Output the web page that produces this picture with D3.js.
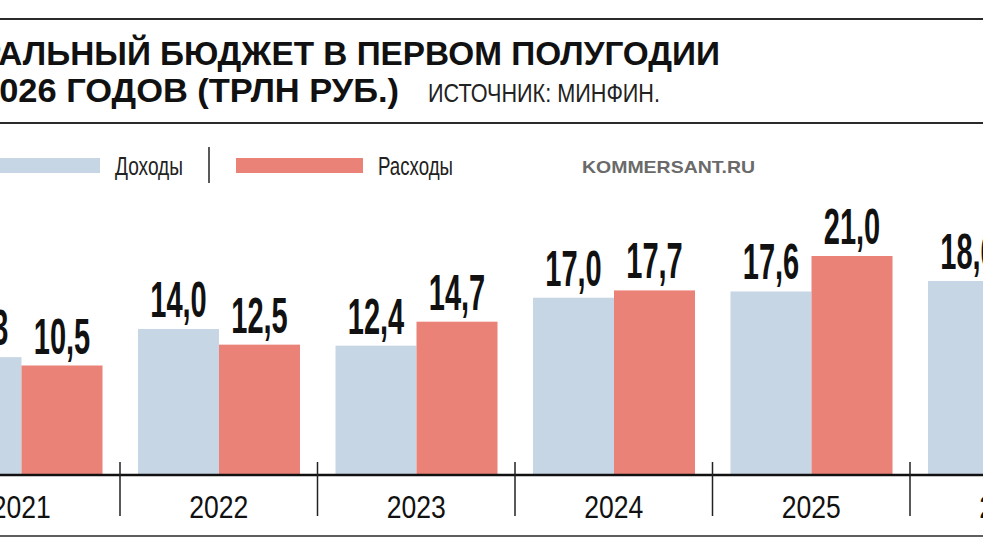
<!DOCTYPE html>
<html>
<head>
<meta charset="utf-8">
<script src="https://cdn.jsdelivr.net/npm/d3@7"></script>
<style>
  body { margin: 0; background: #fff; }
  svg { display: block; }
  text { font-family: "Liberation Sans", Arial, sans-serif; }
</style>
</head>
<body>
<div id="chart"></div>
<script>
// Data (trillion rubles, first half of year)
const years = ["2021", "2022", "2023", "2024", "2025", "2026"];
const income = [11.3, 14.0, 12.4, 17.0, 17.6, 18.6];
const spending = [10.5, 12.5, 14.7, 17.7, 21.0, null];
const seriesNames = ["Доходы", "Расходы"];
const seriesColors = ["#c6d6e5", "#eb8278"];

const titleLine1 = "ФЕДЕРАЛЬНЫЙ БЮДЖЕТ В ПЕРВОМ ПОЛУГОДИИ";
const titleLine2 = "2021–2026 ГОДОВ (ТРЛН РУБ.)";
const sourceText = "ИСТОЧНИК: МИНФИН.";

const width = 983, height = 553;

const svg = d3.select("#chart")
    .append("svg")
    .attr("width", width)
    .attr("height", height);

// Helper: width of a string in a given style
function measure(str, size, weight) {
    const t = svg.append("text")
        .style("font-size", size + "px")
        .style("font-weight", weight)
        .text(str);
    const w = t.node().getComputedTextLength();
    t.remove();
    return w;
}

// Horizontal rules
svg.append("line").attr("x1", 0).attr("x2", width).attr("y1", 19).attr("y2", 19)
    .attr("stroke", "#2a2a2a").attr("stroke-width", 2);
svg.append("line").attr("x1", 0).attr("x2", width).attr("y1", 123).attr("y2", 123)
    .attr("stroke", "#2a2a2a").attr("stroke-width", 2);

// Title (the picture is cropped on the left, so the lines are right-aligned)
const s1 = 722 / measure("АЛЬНЫЙ БЮДЖЕТ В ПЕРВОМ ПОЛУГОДИИ", 33, "bold");
svg.append("text")
    .attr("transform", `translate(720,65) scale(${s1},1)`)
    .attr("text-anchor", "end")
    .style("font-size", "33px")
    .style("font-weight", "bold")
    .attr("fill", "#111")
    .text(titleLine1);

const s2 = 400 / measure("026 ГОДОВ (ТРЛН РУБ.)", 33, "bold");
svg.append("text")
    .attr("transform", `translate(399,102) scale(${s2},1)`)
    .attr("text-anchor", "end")
    .style("font-size", "33px")
    .style("font-weight", "bold")
    .attr("fill", "#111")
    .text(titleLine2);

svg.append("text")
    .attr("x", 428).attr("y", 102)
    .attr("textLength", 232).attr("lengthAdjust", "spacingAndGlyphs")
    .style("font-size", "25px")
    .attr("fill", "#222")
    .text(sourceText);

// Legend
const legend = [
    { name: seriesNames[0], color: seriesColors[0], x: -27, tx: 115, tl: 68 },
    { name: seriesNames[1], color: seriesColors[1], x: 236, tx: 378, tl: 75 }
];
legend.forEach(d => {
    svg.append("rect").attr("x", d.x).attr("y", 158).attr("width", 127).attr("height", 15)
        .attr("fill", d.color);
    svg.append("text").attr("x", d.tx).attr("y", 175)
        .attr("textLength", d.tl).attr("lengthAdjust", "spacingAndGlyphs")
        .style("font-size", "25px").attr("fill", "#222")
        .text(d.name);
});
svg.append("line").attr("x1", 209).attr("x2", 209).attr("y1", 147).attr("y2", 183)
    .attr("stroke", "#222").attr("stroke-width", 1.5);

svg.append("text").attr("x", 582).attr("y", 173)
    .attr("textLength", 173).attr("lengthAdjust", "spacingAndGlyphs")
    .style("font-size", "17px").style("font-weight", "bold")
    .attr("fill", "#6a6a6a")
    .text("KOMMERSANT.RU");

// Scales
const x0 = d3.scaleBand()
    .domain(years)
    .range([-77.5, -77.5 + years.length * 197.5])
    .padding(0);

const x1 = d3.scaleBand()
    .domain(seriesNames)
    .range([18, 180])
    .padding(0);

const y = d3.scaleLinear()
    .domain([0, 21])
    .range([475, 256]);

const rows = years.map((yr, i) => ({
    year: yr,
    values: [
        { name: seriesNames[0], value: income[i], color: seriesColors[0] },
        { name: seriesNames[1], value: spending[i], color: seriesColors[1] }
    ].filter(v => v.value != null)
}));

const groups = svg.selectAll(".group")
    .data(rows)
    .enter()
    .append("g")
    .attr("class", "group")
    .attr("transform", d => `translate(${x0(d.year)},0)`);

groups.selectAll("rect")
    .data(d => d.values)
    .enter()
    .append("rect")
    .attr("x", d => x1(d.name))
    .attr("width", x1.bandwidth())
    .attr("y", d => y(d.value))
    .attr("height", d => y(0) - y(d.value))
    .attr("fill", d => d.color);

groups.selectAll(".val")
    .data(d => d.values)
    .enter()
    .append("text")
    .attr("class", "val")
    .attr("transform", d => `translate(${x1(d.name) + x1.bandwidth() / 2},${y(d.value) - 12}) scale(0.58,1)`)
    .attr("text-anchor", "middle")
    .style("font-size", "50px")
    .style("font-weight", "bold")
    .attr("fill", "#111")
    .text(d => d.value.toFixed(1).replace(".", ","));

// Baseline and year axis
svg.append("line").attr("x1", 0).attr("x2", width).attr("y1", y(0)).attr("y2", y(0))
    .attr("stroke", "#111").attr("stroke-width", 2.5);

const axis = svg.append("g")
    .attr("transform", `translate(0,${y(0)})`)
    .call(d3.axisBottom(x0).tickSize(0).tickPadding(0));
axis.select(".domain").remove();
axis.selectAll("text")
    .attr("y", 43)
    .attr("dy", 0)
    .attr("transform", "scale(0.83,1)")
    .style("font-family", "'Liberation Sans', Arial, sans-serif")
    .style("font-size", "32px")
    .attr("fill", "#111");

// Separators between years
svg.selectAll(".sep")
    .data(years.slice(1))
    .enter()
    .append("line")
    .attr("class", "sep")
    .attr("x1", d => x0(d)).attr("x2", d => x0(d))
    .attr("y1", 462).attr("y2", 516)
    .attr("stroke", "#222").attr("stroke-width", 1.5);

svg.append("line").attr("x1", 0).attr("x2", width).attr("y1", 536).attr("y2", 536)
    .attr("stroke", "#2a2a2a").attr("stroke-width", 1.5);
</script>
</body>
</html>
